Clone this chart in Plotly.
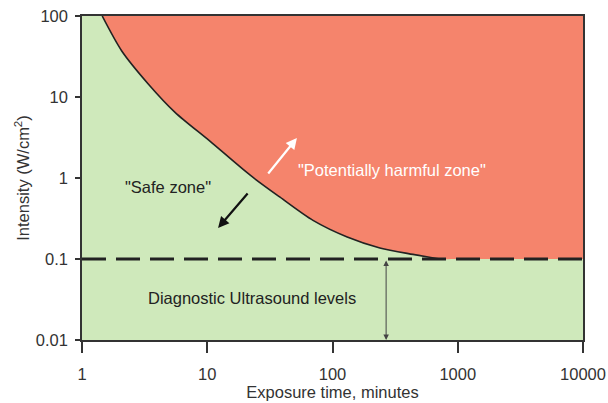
import plotly.graph_objects as go
import math

# Boundary of the "potentially harmful zone" (exposure time in minutes, intensity W/cm^2)
boundary_time = [1.45, 2.07, 3.38, 5.53, 10.5, 21.9, 38.1, 69.9, 131, 239, 439, 722]
boundary_intensity = [100, 37.3, 14.5, 6.47, 2.85, 1.09, 0.58, 0.30, 0.187, 0.137, 0.114, 0.1]
# flat part of the boundary, along the diagnostic level
flat_time = [1000, 10000]
flat_intensity = [0.1, 0.1]

diagnostic_level = 0.1
x_min, x_max = 1, 10000
y_min, y_max = 0.01, 100

x_ticks = [1, 10, 100, 1000, 10000]
x_tick_labels = ["1", "10", "100", "1000", "10000"]
y_ticks = [0.01, 0.1, 1, 10, 100]
y_tick_labels = ["0.01", "0.1", "1", "10", "100"]

GREEN = "#cfe9bb"
RED = "#f5846c"
DARK = "#333333"
FONT = "Liberation Sans, Arial, sans-serif"
FS = 16.5

fig = go.Figure()

# top edge of the harmful zone
fig.add_trace(go.Scatter(x=[boundary_time[0], x_max], y=[y_max, y_max], mode="lines",
                         line=dict(width=0), hoverinfo="skip", showlegend=False))
# red harmful zone (filled up to the top edge)
fig.add_trace(go.Scatter(x=boundary_time + flat_time, y=boundary_intensity + flat_intensity,
                         fill="tonexty", fillcolor=RED, mode="lines",
                         line=dict(width=0, shape="spline", smoothing=0.8),
                         hoverinfo="skip", showlegend=False))

# boundary curve
fig.add_trace(go.Scatter(x=boundary_time, y=boundary_intensity, mode="lines",
                         line=dict(color="#222222", width=1.6, shape="spline", smoothing=0.8),
                         hoverinfo="skip", showlegend=False))

# diagnostic level dashed line
fig.add_trace(go.Scatter(x=[x_min, x_max], y=[diagnostic_level, diagnostic_level], mode="lines",
                         line=dict(color="#222222", width=3, dash="24px,10px"),
                         hoverinfo="skip", showlegend=False))

lg = math.log10
font_txt = dict(family=FONT, size=FS)

fig.add_annotation(x=lg(4.9), y=lg(0.775), text='"Safe zone"', showarrow=False,
                   font=dict(font_txt, color="#222222"))
fig.add_annotation(x=lg(298), y=lg(1.26), text='"Potentially harmful zone"', showarrow=False,
                   font=dict(font_txt, color="white"))
fig.add_annotation(x=lg(22.7), y=lg(0.033), text="Diagnostic Ultrasound levels", showarrow=False,
                   font=dict(font_txt, color="#222222"))

# black arrow into safe zone
fig.add_annotation(x=lg(12.2), y=lg(0.242), ax=lg(21.5), ay=lg(0.672),
                   xref="x", yref="y", axref="x", ayref="y", text="", showarrow=True,
                   arrowhead=2, arrowsize=1, arrowwidth=2.2, arrowcolor="#111111")
# white arrow into harmful zone
fig.add_annotation(x=lg(52), y=lg(3.12), ax=lg(30), ay=lg(1.09),
                   xref="x", yref="y", axref="x", ayref="y", text="", showarrow=True,
                   arrowhead=2, arrowsize=1, arrowwidth=2.2, arrowcolor="white")
# double arrow diagnostic range
fig.add_annotation(x=lg(268), y=lg(y_min), ax=lg(268), ay=lg(diagnostic_level),
                   xref="x", yref="y", axref="x", ayref="y", text="", showarrow=True,
                   arrowhead=2, arrowsize=1.1, arrowwidth=1, arrowcolor="#444444",
                   arrowside="end+start", standoff=0, startstandoff=0)

fig.update_xaxes(type="log", range=[lg(x_min), lg(x_max)], tickvals=x_ticks, ticktext=x_tick_labels,
                 ticks="outside", ticklen=11, tickwidth=1.5, tickcolor=DARK,
                 showline=True, linecolor=DARK, linewidth=1.5, mirror=True, automargin=False,
                 showgrid=False, zeroline=False, ticklabelstandoff=7, ticklabeloverflow="allow",
                 tickfont=dict(family=FONT, size=FS, color=DARK),
                 title=dict(text="Exposure time, minutes", standoff=5,
                            font=dict(family=FONT, size=FS, color=DARK)))
fig.update_yaxes(type="log", range=[lg(y_min), lg(y_max)], tickvals=y_ticks, ticktext=y_tick_labels,
                 ticks="outside", ticklen=5, tickwidth=1.5, tickcolor=DARK,
                 showline=True, linecolor=DARK, linewidth=1.5, mirror=True, automargin=False,
                 showgrid=False, zeroline=False, ticklabelstandoff=4, ticklabeloverflow="allow",
                 tickfont=dict(family=FONT, size=FS, color=DARK),
                 title=dict(text="Intensity (W/cm<sup>2</sup>)", standoff=2,
                            font=dict(family=FONT, size=FS, color=DARK)))

fig.update_layout(width=608, height=403, margin=dict(l=82, r=25, t=16, b=63),
                  plot_bgcolor=GREEN, paper_bgcolor="white", showlegend=False)

# remove the default page margin so the figure fills the 608x403 window exactly
fig.write_html("out.html", config={"displayModeBar": False},
               post_script="document.body.style.margin='0';")
